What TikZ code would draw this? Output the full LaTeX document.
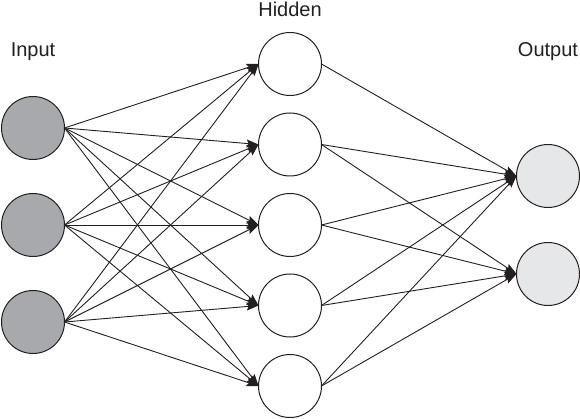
\documentclass[tikz,border=0pt]{standalone}
\usepackage{fontspec}
\setmainfont{Liberation Sans}
\usetikzlibrary{arrows.meta}
\definecolor{ingray}{HTML}{A7A9AC}
\definecolor{outgray}{HTML}{E6E7E8}
\definecolor{linegray}{HTML}{231F20}
\begin{document}
\begin{tikzpicture}[x=1pt, y=-1pt,
    neuron/.style={circle, draw=linegray, line width=1pt, minimum size=63pt,
          inner sep=0pt, outer sep=0pt},
    conn/.style={draw=linegray, line width=0.9pt,
          -{Stealth[length=12pt, width=8pt, inset=2pt]}},
    layername/.style={anchor=base, font=\fontsize{20}{24}\selectfont, text=linegray}]
            \useasboundingbox (0,0) rectangle (580,419);
            \foreach \i/\y in {1/128, 2/225, 3/322}{
                \node[neuron, fill=ingray] (in\i) at (33, \y) {};
            };
            \foreach \j[
                evaluate = \j as \y using {64 + (\j-1)*80.5}
                ] in {1,...,5}{
                \node[neuron, fill=white] (h\j) at (290, \y) {};
            };
            \foreach \k/\y in {1/176, 2/274}{
                \node[neuron, fill=outgray] (out\k) at (548, \y) {};
            };
            \node[layername] (inlabel) at (33, 57) {Input};
            \node[layername] (hidlabel) at (290, 17) {Hidden};
            \node[layername] (outlabel) at (548, 57) {Output};
            \foreach \i in {1,2,3}
                \foreach \j in {1,...,5}
                    \draw[conn] (in\i.east) -- (h\j.west);
            \draw[conn] (h1.east) -- (out1.west);
            \foreach \j in {2,...,5}
                \foreach \k in {1,2}
                    \draw[conn] (h\j.east) -- (out\k.west);
        \end{tikzpicture}
\end{document}
